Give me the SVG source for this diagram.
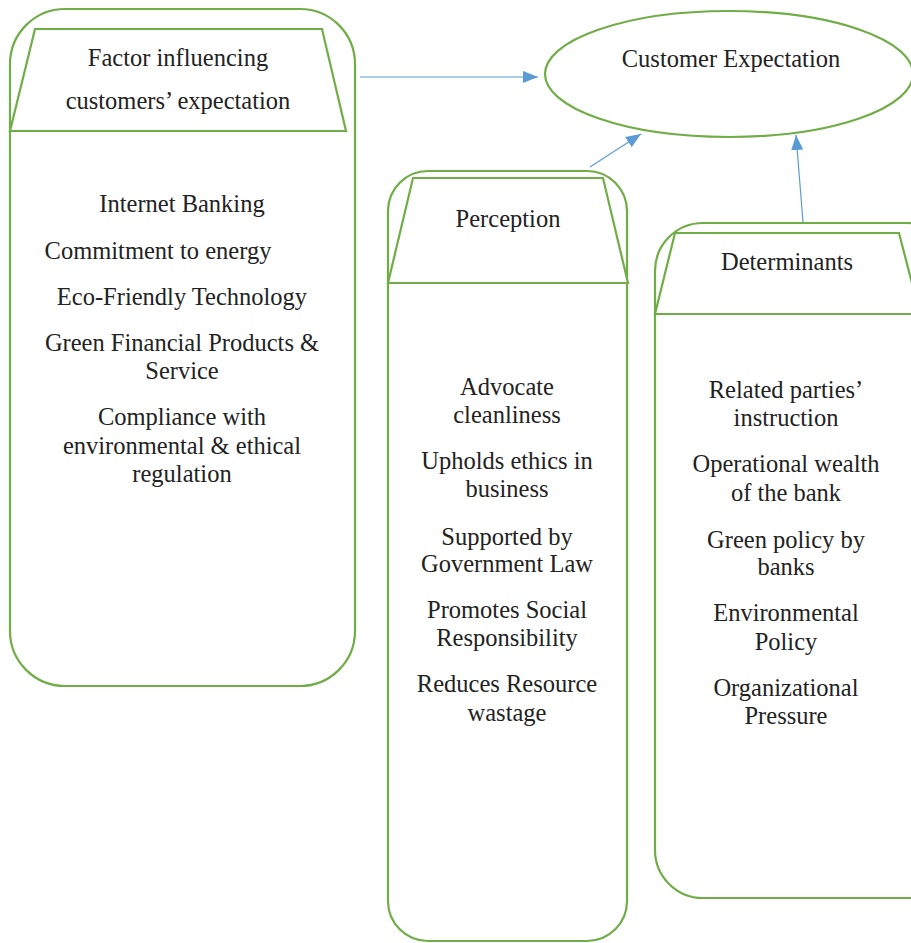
<svg xmlns="http://www.w3.org/2000/svg" width="911" height="943" viewBox="0 0 911 943">
<defs>
<marker id="ah" markerWidth="15" markerHeight="12" refX="15" refY="6" orient="auto" markerUnits="userSpaceOnUse">
<path d="M0,0 L15,6 L0,12 Z" fill="#5B9BD5"/>
</marker>
</defs>
<style>
.box{fill:#fff;stroke:#70AD47;stroke-width:2.2}
.trap{fill:#fff;stroke:#70AD47;stroke-width:2.2}
.t{font-family:"Liberation Serif","Times New Roman",serif;font-size:24.5px;fill:#222;text-anchor:middle}
.c{stroke:#5B9BD5;stroke-width:1.2;fill:none}
</style>
<rect width="911" height="943" fill="#fff"/>
<g id="factors">
<rect class="box" x="10" y="9" width="345" height="677" rx="55" ry="55"/>
<polygon class="trap" points="35,29 322,29 346,131 10,131"/>
<text class="t" x="178" y="66">Factor influencing</text>
<text class="t" x="178" y="109">customers’ expectation</text>
<text class="t" x="182" y="212">Internet Banking</text>
<text class="t" x="158" y="259">Commitment to energy</text>
<text class="t" x="182" y="305">Eco-Friendly Technology</text>
<text class="t" x="182" y="351">Green Financial Products &amp;</text>
<text class="t" x="182" y="379">Service</text>
<text class="t" x="182" y="425">Compliance with</text>
<text class="t" x="182" y="454">environmental &amp; ethical</text>
<text class="t" x="182" y="482">regulation</text>
</g>
<g id="expectation">
<ellipse class="box" cx="729" cy="74" rx="184" ry="63"/>
<text class="t" x="731" y="67">Customer Expectation</text>
</g>
<g id="perception">
<rect class="box" x="388" y="171" width="239" height="770" rx="40" ry="40"/>
<polygon class="trap" points="413,178 603,178 628,283 388,283"/>
<text class="t" x="508" y="227">Perception</text>
<text class="t" x="507" y="395">Advocate</text>
<text class="t" x="507" y="423">cleanliness</text>
<text class="t" x="507" y="469">Upholds ethics in</text>
<text class="t" x="507" y="497">business</text>
<text class="t" x="507" y="545">Supported by</text>
<text class="t" x="507" y="572">Government Law</text>
<text class="t" x="507" y="618">Promotes Social</text>
<text class="t" x="507" y="646">Responsibility</text>
<text class="t" x="507" y="692">Reduces Resource</text>
<text class="t" x="507" y="721">wastage</text>
</g>
<g id="determinants">
<rect class="box" x="655" y="223" width="300" height="675" rx="48" ry="48"/>
<polygon class="trap" points="675,233 899,233 920,314 655,314"/>
<text class="t" x="787" y="270">Determinants</text>
<text class="t" x="786" y="398">Related parties’</text>
<text class="t" x="786" y="426">instruction</text>
<text class="t" x="786" y="472">Operational wealth</text>
<text class="t" x="786" y="501">of the bank</text>
<text class="t" x="786" y="548">Green policy by</text>
<text class="t" x="786" y="575">banks</text>
<text class="t" x="786" y="621">Environmental</text>
<text class="t" x="786" y="650">Policy</text>
<text class="t" x="786" y="696">Organizational</text>
<text class="t" x="786" y="724">Pressure</text>
</g>
<g id="connectors">
<line class="c" x1="360" y1="77" x2="538" y2="77" marker-end="url(#ah)"/>
<line class="c" x1="590" y1="167" x2="641" y2="134" marker-end="url(#ah)"/>
<line class="c" x1="803" y1="222" x2="796" y2="135" marker-end="url(#ah)"/>
</g>
</svg>
